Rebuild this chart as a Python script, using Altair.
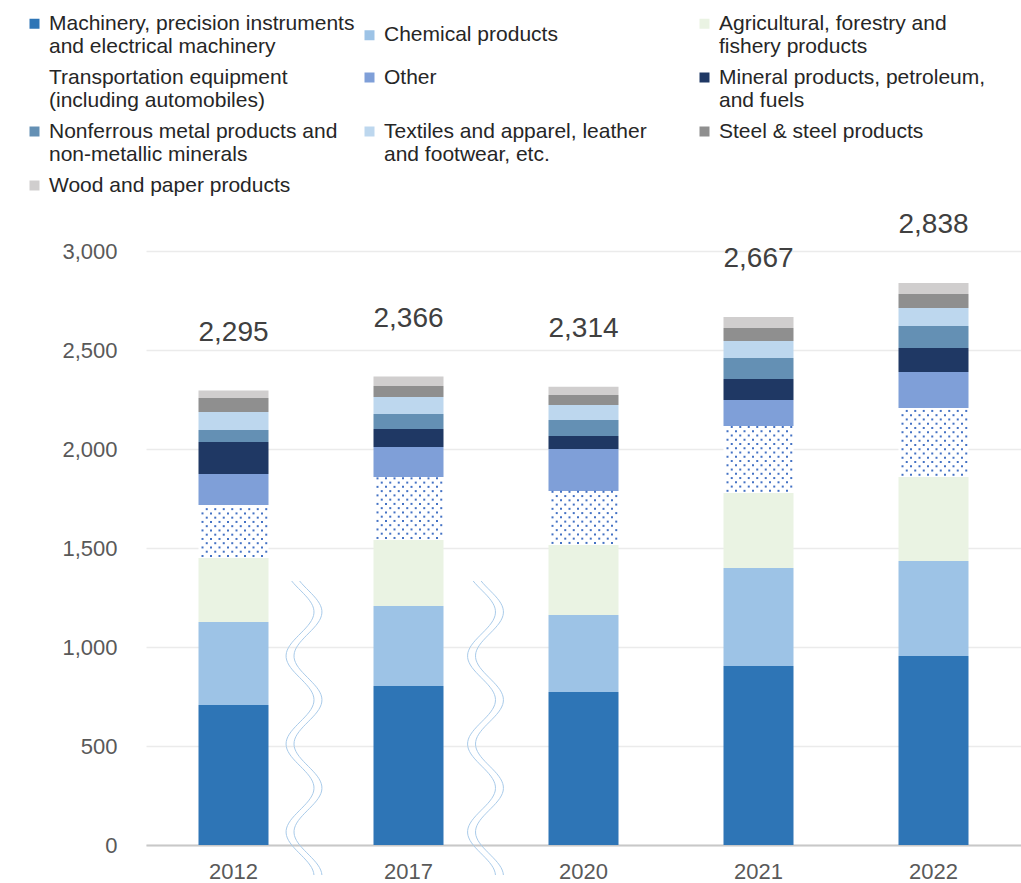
import altair as alt
import pandas as pd
import numpy as np

years = ["2012", "2017", "2020", "2021", "2022"]
categories = [
    "Machinery, precision instruments|and electrical machinery",
    "Chemical products",
    "Agricultural, forestry and|fishery products",
    "Transportation equipment|(including automobiles)",
    "Other",
    "Mineral products, petroleum,|and fuels",
    "Nonferrous metal products and|non-metallic minerals",
    "Textiles and apparel, leather|and footwear, etc.",
    "Steel & steel products",
    "Wood and paper products",
]
colors = ["#2E75B6", "#9DC3E6", "#EAF3E3", "#FFFFFF", "#7F9FD8",
          "#1F3864", "#6490B4", "#BDD7EE", "#8F8F8F", "#D0CECE"]

machinery = [707, 803, 773, 904, 955]
chemical = [419, 404, 389, 495, 479]
agri = [323, 333, 353, 379, 425]
transport = [268, 319, 273, 338, 348]
other = [157, 151, 212, 131, 182]
mineral = [161, 91, 66, 107, 121]
nonferrous = [61, 76, 80, 106, 111]
textiles = [91, 86, 76, 85, 91]
steel = [71, 55, 51, 66, 71]
wood = [37, 48, 41, 56, 55]
totals = [2295, 2366, 2314, 2667, 2838]

series = [machinery, chemical, agri, transport, other, mineral, nonferrous, textiles, steel, wood]

rows = []
for ci, (cat, vals) in enumerate(zip(categories, series)):
    for y, v in zip(years, vals):
        rows.append({"year": y, "category": cat, "value": v, "ord": ci})
df = pd.DataFrame(rows)

tot_df = pd.DataFrame({"year": years, "total": totals})

# dotted texture for the transportation segment (offsets relative to band start)
dot_rows = []
row_step = 21.5
for i, y in enumerate(years):
    base = machinery[i] + chemical[i] + agri[i]
    top = base + transport[i]
    k = 0
    while base + (k + 0.5) * row_step < top:
        shift = 0 if k % 2 == 0 else 4.25
        for j in range(8):
            dx = 4 + j * 8.5 + shift
            if dx <= 68:
                dot_rows.append({"year": y, "yy": base + (k + 0.5) * row_step, "dx": dx})
        k += 1
dots_df = pd.DataFrame(dot_rows)

# wavy axis-break symbol (decoration)
def wave_path():
    P, A, sep, phi = 0.5986, 0.095, 0.027, -0.64
    ys = np.linspace(-1, 1, 120)
    parts = []
    for off in (-sep, sep):
        xs = A * np.sin(2 * np.pi * (ys + 1) / P + phi) + off
        pts = " L".join(f"{x:.4f},{yv:.4f}" for x, yv in zip(xs, ys))
        parts.append("M" + pts)
    return " ".join(parts)

wave_df = pd.DataFrame({"year": ["2012", "2017"], "off": [105.5, 112]})

font = "Liberation Sans"

xaxis = alt.Axis(title=None, labelAngle=0, ticks=False, grid=False, domainColor="#C8C8C8",
                 domainWidth=2, labelFontSize=22, labelColor="#595959",
                 labelFont=font, labelPadding=16)
yaxis = alt.Axis(title=None, values=[0, 500, 1000, 1500, 2000, 2500, 3000],
                 labelExpr="format(datum.value, ',')", domain=False, ticks=False,
                 gridColor="#EBEBEB", gridWidth=1.5, labelFontSize=22,
                 labelColor="#595959", labelFont=font, labelPadding=29)
yscale = alt.Scale(domain=[0, 3000], nice=False)
xscale = alt.Scale(paddingInner=0.6, paddingOuter=0.3)

bars = alt.Chart(df).mark_bar().encode(
    x=alt.X("year:N", sort=years, scale=xscale, axis=xaxis),
    y=alt.Y("value:Q", stack="zero", scale=yscale, axis=yaxis),
    color=alt.Color("category:N", sort=categories,
                    scale=alt.Scale(domain=categories, range=colors),
                    legend=alt.Legend(title=None, orient="none", legendX=-122, legendY=-238,
                                      direction="horizontal",
                                      columns=3, gridAlign="all", columnPadding=4,
                                      rowPadding=9, symbolType="square", symbolSize=100,
                                      symbolStrokeWidth=0, labelFont=font, labelFontSize=21,
                                      labelColor="#262626", labelLimit=500, labelOffset=4,
                                      labelExpr="split(datum.label, '|')")),
    order=alt.Order("ord:Q", sort="ascending"),
)

dots = alt.Chart(dots_df).mark_square(size=4, color="#4472C4", opacity=1).encode(
    x=alt.X("year:N", sort=years, scale=xscale, axis=xaxis),
    xOffset=alt.XOffset("dx:Q", scale=None),
    y=alt.Y("yy:Q", scale=yscale, axis=yaxis),
)

labels = alt.Chart(tot_df).mark_text(dy=-58, fontSize=28, color="#404040", font=font,
                                     baseline="middle").encode(
    x=alt.X("year:N", sort=years, scale=xscale, axis=xaxis),
    y=alt.Y("total:Q", scale=yscale, axis=yaxis),
    text=alt.Text("total:Q", format=","),
)

waves = alt.Chart(wave_df).mark_point(shape=wave_path(), filled=False, size=294 * 294,
                                      color="#A9CBEA", strokeWidth=1, opacity=1).encode(
    x=alt.X("year:N", sort=years, scale=xscale, axis=xaxis),
    xOffset=alt.XOffset("off:Q", scale=None),
    y=alt.value(477),
)

chart = alt.layer(bars, dots, waves, labels).properties(
    width=875, height=594,
    background="white",
    autosize=alt.AutoSizeParams(type="none"),
    padding={"left": 146, "top": 251, "right": 0, "bottom": 38},
).configure_view(stroke=None, strokeWidth=0).configure_axisY(
    domain=False, ticks=False
).configure_axisX(grid=False)

chart.save("out.html", embed_options={"renderer": "svg", "actions": False})
